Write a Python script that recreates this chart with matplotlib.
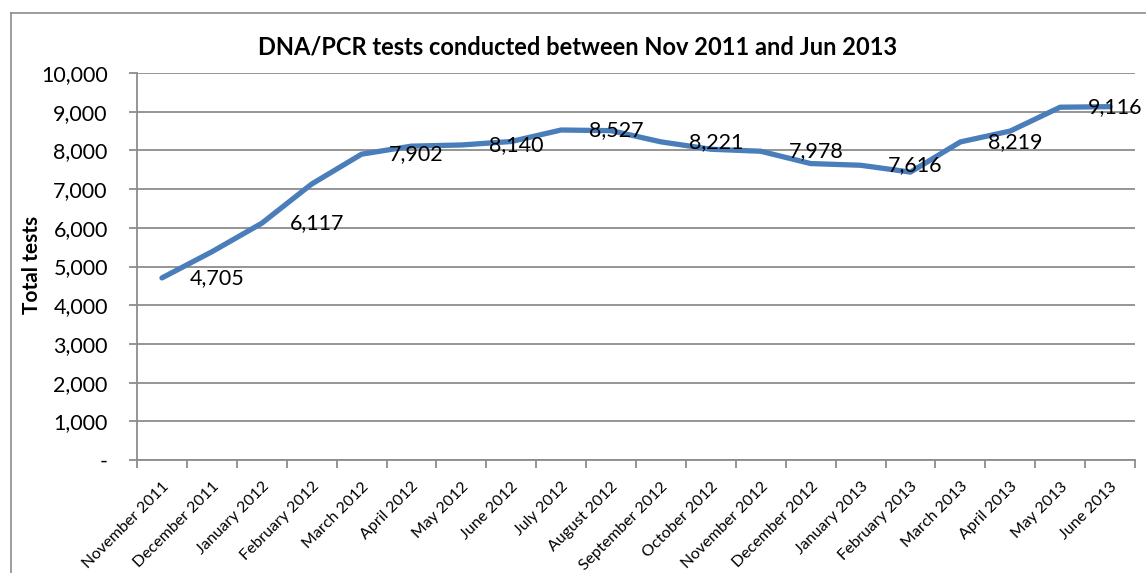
import matplotlib
matplotlib.use("Agg")
import matplotlib.pyplot as plt
from matplotlib.lines import Line2D
from matplotlib.ticker import FixedLocator, FuncFormatter

months = ["November 2011", "December 2011", "January 2012", "February 2012",
          "March 2012", "April 2012", "May 2012", "June 2012", "July 2012",
          "August 2012", "September 2012", "October 2012", "November 2012",
          "December 2012", "January 2013", "February 2013", "March 2013",
          "April 2013", "May 2013", "June 2013"]
tests = [4705, 5380, 6117, 7130, 7902, 8110, 8140, 8230, 8527, 8510,
         8221, 8030, 7978, 7660, 7616, 7440, 8219, 8500, 9116, 9130]
labelled = [0, 2, 4, 6, 8, 10, 12, 14, 16, 18]

plt.rcParams['font.family'] = ['Lato', 'DejaVu Sans']

W, H = 1146, 573
fig = plt.figure(figsize=(W / 100, H / 100), dpi=100)
ax = fig.add_axes([137 / W, 1 - 460 / H, (1135 - 137) / W, (460 - 73) / H])

x = list(range(len(months)))
ax.plot(x, tests, color='#4A7EBB', linewidth=3.8, solid_capstyle='round',
        solid_joinstyle='round', zorder=3)

for i in labelled:
    ax.annotate(f"{tests[i]:,}", (x[i], tests[i]), xytext=(20, 0),
                textcoords='offset points', ha='left', va='center',
                fontsize=15.5, color='black', zorder=4)

ax.set_xlim(-0.5, len(months) - 0.5)
ax.set_ylim(0, 10000)

grid_c = '#8C8C8C'
ax.yaxis.set_major_locator(FixedLocator(range(0, 10001, 1000)))
ax.yaxis.set_major_formatter(FuncFormatter(lambda v, p: '-' if v == 0 else f"{int(v):,}"))
ax.grid(axis='y', color=grid_c, linewidth=1.3, zorder=1)
ax.set_axisbelow(True)

ax.xaxis.set_major_locator(FixedLocator([i - 0.5 for i in range(len(months) + 1)]))
ax.xaxis.set_major_formatter(FuncFormatter(lambda v, p: ''))
ax.set_xticks(x, minor=True)
ax.set_xticklabels(months, minor=True, rotation=45, ha='right',
                   rotation_mode='anchor', fontsize=11.5)
ax.tick_params(axis='x', which='minor', length=0, pad=14)
ax.tick_params(axis='x', which='major', length=6, color=grid_c, width=1.3)
ax.tick_params(axis='y', length=6, color=grid_c, width=1.3, labelsize=15.5, pad=15)

for s in ['top', 'right']:
    ax.spines[s].set_visible(False)
for s in ['left', 'bottom']:
    ax.spines[s].set_color(grid_c)
    ax.spines[s].set_linewidth(1.3)

ax.set_ylabel("Total tests", fontsize=15, fontweight='bold', va='center')
ax.yaxis.set_label_coords((32 - 137) / (1135 - 137), (460 - 265) / (460 - 73))
fig.text(578 / W, 1 - 47 / H, "DNA/PCR tests conducted between Nov 2011 and Jun 2013",
         ha='center', va='center', fontsize=17, fontweight='bold')

# chart border
fig.add_artist(Line2D([11 / W, 11 / W], [0, 1 - 13 / H], transform=fig.transFigure,
                      color='#8C8C8C', linewidth=1.2))
fig.add_artist(Line2D([11 / W, 1], [1 - 13 / H, 1 - 13 / H], transform=fig.transFigure,
                      color='#8C8C8C', linewidth=1.2))

fig.savefig("out.png", dpi=100, facecolor='white')
